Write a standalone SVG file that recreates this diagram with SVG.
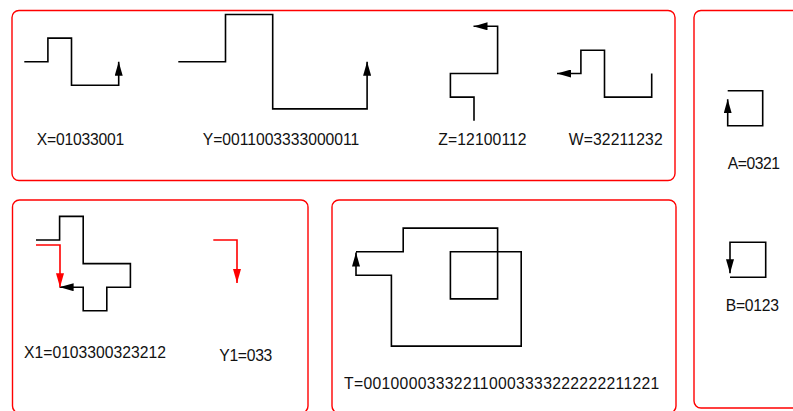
<svg xmlns="http://www.w3.org/2000/svg" width="793" height="411" viewBox="0 0 793 411">
<style>
.panel{fill:none;stroke:#ff0000;stroke-width:1.4}
.code{fill:none;stroke:#000;stroke-width:1.6}
.red{fill:none;stroke:#ff0000;stroke-width:1.6}
.lbl{font-family:"Liberation Sans",Arial,sans-serif;font-size:15.7px;fill:#111}
</style>
<defs>
<marker id="ab" markerUnits="userSpaceOnUse" markerWidth="14" markerHeight="8" viewBox="0 0 14 8" refX="14" refY="4" orient="auto"><path d="M0,0 L14,4 L0,8 z" fill="#000"/></marker>
<marker id="ar" markerUnits="userSpaceOnUse" markerWidth="14" markerHeight="8" viewBox="0 0 14 8" refX="14" refY="4" orient="auto"><path d="M0,0 L14,4 L0,8 z" fill="#ff0000"/></marker>
</defs>
<rect width="793" height="411" fill="#fff"/>
<g id="panels">
<rect class="panel" x="12" y="10.5" width="663" height="170" rx="7"/>
<rect class="panel" x="12.5" y="200" width="295.5" height="213" rx="7"/>
<rect class="panel" x="332" y="200" width="344" height="213" rx="7"/>
<rect class="panel" x="694" y="10.5" width="112" height="397.5" rx="7"/>
</g>
<g id="X">
<path class="code" d="M24.3,61.7 H47.9 V38.1 H71.5 V85.3 H118.7 V61.7" marker-end="url(#ab)"/>
<text class="lbl" x="36.7" y="145" textLength="87.6" lengthAdjust="spacing">X=01033001</text>
</g>
<g id="Y">
<path class="code" d="M178.3,61.7 H225.5 V14.5 H272.7 V108.9 H367.1 V61.7" marker-end="url(#ab)"/>
<text class="lbl" x="202.7" y="145" textLength="156.6" lengthAdjust="spacing">Y=0011003333000011</text>
</g>
<g id="Z">
<path class="code" d="M474,120.7 V97.1 H450.4 V73.5 H497.6 V26.3 H473.5" marker-end="url(#ab)"/>
<text class="lbl" x="438.3" y="145" textLength="88.3" lengthAdjust="spacing">Z=12100112</text>
</g>
<g id="W">
<path class="code" d="M651.7,73.5 V97.1 H604.5 V50.3 H580.9 V73.5 H557" marker-end="url(#ab)"/>
<text class="lbl" x="568.7" y="145" textLength="94" lengthAdjust="spacing">W=32211232</text>
</g>
<g id="X1">
<path class="code" d="M36,240 H59.6 V216.4 H83.2 V263.6 H130.4 V287.2 H106.8 V310.8 H83.2 V287.2 H59.6" marker-end="url(#ab)"/>
<path class="red" d="M36,245 H60 V287.3" marker-end="url(#ar)"/>
<text class="lbl" x="24" y="357.7" textLength="142" lengthAdjust="spacing">X1=0103300323212</text>
</g>
<g id="Y1">
<path class="red" d="M213.3,240 H237 V283" marker-end="url(#ar)"/>
<text class="lbl" x="219.3" y="360.7" textLength="53" lengthAdjust="spacing">Y1=033</text>
</g>
<g id="T">
<path class="code" d="M356,251.7 H403.2 V228.1 H497.6 V298.9 H450.4 V251.7 H521.2 V346.1 H391.4 V275.3 H356 V252.5" marker-end="url(#ab)"/>
<text class="lbl" x="344" y="389.3" textLength="315.3" lengthAdjust="spacing">T=001000033322110003333222222211221</text>
</g>
<g id="A">
<path class="code" d="M727.7,90.7 H762.7 V125.7 H727.7 V99.3" marker-end="url(#ab)"/>
<text class="lbl" x="727.7" y="169.3" textLength="52.3" lengthAdjust="spacing">A=0321</text>
</g>
<g id="B">
<path class="code" d="M730,277.3 H765.7 V242.3 H730 V273.3" marker-end="url(#ab)"/>
<text class="lbl" x="725.7" y="311" textLength="53.3" lengthAdjust="spacing">B=0123</text>
</g>
<g id="connectors"/>
</svg>
